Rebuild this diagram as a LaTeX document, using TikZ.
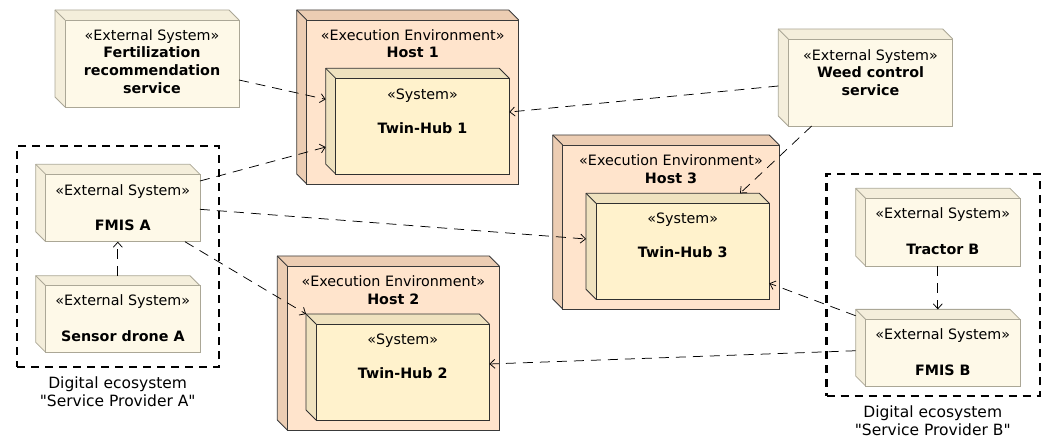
\documentclass[tikz,border=0pt]{standalone}
\usepackage{fontspec}
\setmainfont{DejaVu Sans}[Ligatures=TeXOff]
\usetikzlibrary{arrows.meta,calc}

\definecolor{extfront}{HTML}{FEF9E8}
\definecolor{extside}{HTML}{F4EEDB}
\definecolor{extline}{HTML}{ABA796}
\definecolor{envfront}{HTML}{FFE4CC}
\definecolor{envside}{HTML}{ECCDB3}
\definecolor{envline}{HTML}{3A3A3A}
\definecolor{sysfront}{HTML}{FFF2CC}
\definecolor{sysside}{HTML}{EFE2BF}
\definecolor{sysline}{HTML}{303030}

\tikzset{
  cubebox/.style={rectangle, inner sep=0pt, outer sep=0pt},
  txt/.style={inner sep=0pt, outer sep=0pt, align=center, anchor=north,
    font=\fontsize{14.3}{17.7}\selectfont},
  grouptxt/.style={inner sep=0pt, outer sep=0pt, align=center, anchor=north,
    font=\fontsize{15.5}{18}\selectfont},
  group/.style={rectangle, draw=black, line width=2.6pt,
    dash pattern=on 8pt off 6pt, inner sep=0pt},
  dep/.style={draw=black, line width=0.75pt, dash pattern=on 10pt off 7pt,
    -{Straight Barb[length=5pt,width=9pt]}},
}

% #1 name, #2 x, #3 y, #4 width, #5 height, #6 colour set (ext, env, sys)
\newcommand{\depnode}[6]{%
  \node[cubebox, minimum width=#4pt, minimum height=#5pt] (#1) at (#2,#3) {};
  \fill[#6side] (#1.north west) -- ([xshift=-10pt]#1.north east)
    -- ([yshift=-10pt]#1.north east) -- ([shift={(10pt,-10pt)}]#1.north west)
    -- ([xshift=10pt]#1.south west) -- ([yshift=10pt]#1.south west) -- cycle;
  \filldraw[fill=#6front, draw=#6line, line width=0.8pt]
    ([shift={(10pt,-10pt)}]#1.north west) rectangle (#1.south east);
  \draw[#6line, line width=0.8pt, line join=round]
    ([yshift=-10pt]#1.north east) -- ([xshift=-10pt]#1.north east)
    -- (#1.north west) -- ([yshift=10pt]#1.south west)
    -- ([xshift=10pt]#1.south west);
  \draw[#6line, line width=0.8pt]
    (#1.north west) -- ([shift={(10pt,-10pt)}]#1.north west);
}

\begin{document}
\begin{tikzpicture}[x=1pt,y=-1pt]
\useasboundingbox (0,0) rectangle (1046,438);

% ecosystem groups
\node[group, minimum width=202pt, minimum height=221pt] (grpA) at (118,256.5) {};
\node[group, minimum width=213.3pt, minimum height=222pt] (grpB) at (933.3,285) {};
\node[grouptxt] (grpAtxt) at (117.7,376.5) {Digital ecosystem\\"Service Provider A"};
\node[grouptxt] (grpBtxt) at (932.7,406.2) {Digital ecosystem\\"Service Provider B"};

% execution environments
\depnode{host1}{407.7}{97}{222}{174}{env}
\depnode{host3}{666}{222}{226.6}{174}{env}
\depnode{host2}{388.3}{343}{222}{174}{env}

% systems
\depnode{th1}{417.5}{121.2}{183.6}{105.7}{sys}
\depnode{th3}{677.7}{246.3}{183.3}{106}{sys}
\depnode{th2}{397.7}{367}{183.3}{106}{sys}

% external systems
\depnode{fert}{147}{58.5}{184}{97}{ext}
\depnode{weed}{865.5}{77.5}{174.4}{97}{ext}
\depnode{fmisa}{117.8}{203}{164.3}{77.4}{ext}
\depnode{sensor}{117.8}{314}{164.3}{76.6}{ext}
\depnode{tractor}{937.8}{227.2}{164.3}{77.7}{ext}
\depnode{fmisb}{937.8}{347.7}{164.3}{76.7}{ext}

% labels
\node[txt] (host1txt) at (412.7,29.2) {«Execution Environment»\\\textbf{Host 1}};
\node[txt] (host3txt) at (671,154.9) {«Execution Environment»\\\textbf{Host 3}};
\node[txt] (host2txt) at (393.3,275.9) {«Execution Environment»\\\textbf{Host 2}};
\node[txt] (th1txt) at (422.5,89.2) {«System»\\[16pt]\textbf{Twin-Hub 1}};
\node[txt] (th3txt) at (682.7,213.2) {«System»\\[16pt]\textbf{Twin-Hub 3}};
\node[txt] (th2txt) at (402.7,334.2) {«System»\\[16pt]\textbf{Twin-Hub 2}};
\node[txt] (ferttxt) at (152,29.2) {«External System»\\\textbf{Fertilization}\\\textbf{recommendation}\\\textbf{service}};
\node[txt] (weedtxt) at (870.5,49.2) {«External System»\\\textbf{Weed control}\\\textbf{service}};
\node[txt] (fmisatxt) at (122.8,184.2) {«External System»\\[18pt]\textbf{FMIS A}};
\node[txt] (sensortxt) at (122.8,294.9) {«External System»\\[18pt]\textbf{Sensor drone A}};
\node[txt] (tractortxt) at (942.8,207.5) {«External System»\\[18pt]\textbf{Tractor B}};
\node[txt] (fmisbtxt) at (942.8,328.5) {«External System»\\[18pt]\textbf{FMIS B}};

% dependencies
\draw[dep] ($(fert.north east)+(0,70)$) -- ($(th1.north west)+(0,31)$);
\draw[dep] ($(fmisa.north east)+(0,16.7)$) -- ($(th1.north west)+(0,78.7)$);
\draw[dep] ($(weed.north west)+(0,57)$) -- ($(th1.north east)+(0,43.7)$);
\draw[dep] ($(weed.south west)+(33.4,0)$) -- ($(th3.north west)+(154,0)$);
\draw[dep] ($(fmisa.north east)+(0,45)$) -- ($(th3.north west)+(0,45.7)$);
\draw[dep] ($(fmisa.south east)+(-15,0)$) -- (th2.north west);
\draw[dep] (sensor.north) -- (fmisa.south);
\draw[dep] (tractor.south) -- (fmisb.north);
\draw[dep] ($(fmisb.north west)+(0,6.4)$) -- ($(th3.north east)+(0,90)$);
\draw[dep] ($(fmisb.north west)+(0,41.4)$) -- ($(th2.north east)+(0,50)$);
\end{tikzpicture}
\end{document}
